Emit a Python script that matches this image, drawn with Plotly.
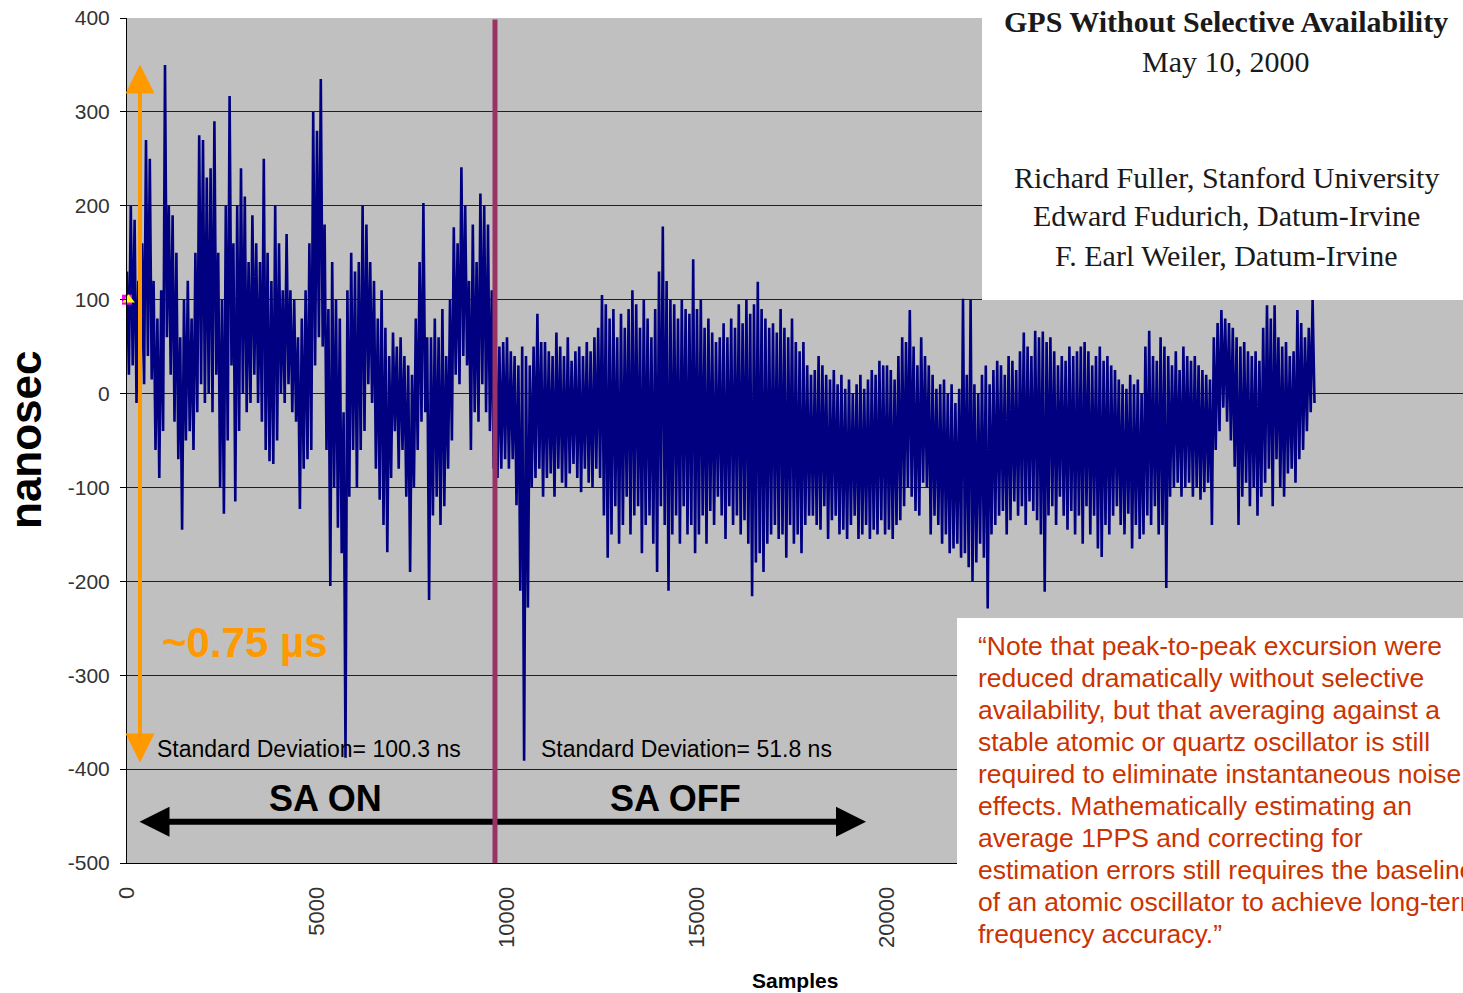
import plotly.graph_objects as go

# ---------------- data ----------------
# sample index of each pair; HI is the upper excursion, LO the lower one within each 100-sample window
SAMPLES = list(range(0, 31300, 100))

HI = [
    130, 200, 185, 120, 160, 270, 250, 120, 80, 110,
    350, 200, 190, 150, 60, 100, 120, 80, 150, 275,
    270, 230, 240, 290, 150, 100, 200, 317, 160, 200,
    240, 210, 140, 190, 160, 140, 250, 150, 120, 200,
    160, 110, 170, 110, 100, 60, 80, 110, 160, 300,
    280, 335, 180, 90, 140, 100, 80, -20, 110, 150,
    130, 140, 200, 180, 140, 120, 80, 110, 70, 40,
    65, 50, 60, 40, 30, 20, 80, 140, 203, 60,
    60, 80, 60, 90, 40, 100, 177, 160, 241, 200,
    120, 180, 140, 213, 200, 180, 110, 60, 50, 55,
    60, 45, 40, 30, 50, 40, 30, 50, 85, 55,
    55, 45, 40, 65, 50, 40, 60, 35, 45, 50,
    40, 55, 45, 60, 70, 105, 95, 80, 90, 60,
    85, 70, 90, 110, 95, 70, 100, 80, 60, 90,
    130, 178, 120, 100, 95, 80, 100, 90, 85, 143,
    90, 100, 70, 80, 65, 55, 60, 75, 60, 80,
    70, 95, 75, 100, 85, 95, 119, 90, 80, 70,
    75, 65, 90, 70, 60, 80, 55, 45, 55, 30,
    20, 25, 40, 30, 20, 15, 25, 10, 20, 5,
    15, 0, 10, 20, 5, 15, 25, 20, 35, 30,
    30, 25, 15, 40, 60, 55, 89, 50, 30, 60,
    40, 30, 20, 5, 10, 15, 0, 10, -10, 5,
    101, 20, 100, 10, 0, 20, 30, 10, 25, 35,
    30, 20, 40, 35, 25, 45, 65, 50, 40, 67,
    60, 66, 55, 60, 45, 30, 40, 35, 50, 40,
    45, 50, 55, 45, 30, 40, 50, 35, 40, 30,
    25, 15, 10, 5, 20, 10, 15, 0, 50, 67,
    40, 35, 60, 50, 40, 30, 45, 25, 50, 40,
    35, 40, 30, 25, 20, 15, 60, 75, 89, 80,
    75, 70, 60, 50, 55, 45, 40, 45, 35, 70,
    94, 80, 94, 60, 50, 55, 40, 45, 89, 75,
    60, 70, 100,
]

LO = [
    20, 30, -10, -15, 10, 40, 15, -60, -90, -40,
    60, 20, -30, -70, -145, -50, -40, -60, -20, 10,
    -10, 0, -20, 20, -100, -128, -50, 30, -115, -40,
    0, -20, -10, 20, -10, -30, -60, -72, -75, -50,
    0, -10, 10, -20, -30, -123, -80, -70, -60, 30,
    60, 50, -60, -205, -100, -143, -170, -388, -110, -60,
    -100, -60, -40, 10, -10, -80, -113, -140, -169, -90,
    -40, -80, -60, -110, -190, -100, -60, -30, -20, -220,
    -130, -110, -140, -120, -80, -50, 20, 10, 40, 30,
    -60, -20, -30, 10, -20, -40, -80, -90, -80, -70,
    -80, -70, -119, -210, -391, -228, -100, -90, -80, -110,
    -90, -85, -110, -80, -95, -100, -85, -75, -90, -105,
    -80, -95, -100, -80, -90, -130, -175, -150, -120, -160,
    -140, -110, -150, -130, -120, -170, -140, -130, -160, -190,
    -120, -140, -210, -150, -130, -160, -120, -150, -140, -170,
    -150, -130, -160, -125, -140, -110, -130, -155, -120, -140,
    -130, -150, -135, -160, -216, -180, -170, -190, -160, -150,
    -140, -155, -150, -175, -140, -160, -150, -170, -140, -130,
    -130, -140, -145, -120, -155, -135, -130, -150, -145, -155,
    -140, -130, -155, -150, -140, -155, -145, -150, -135, -150,
    -145, -155, -140, -135, -120, -100, -110, -125, -130, -95,
    -100, -150, -130, -140, -160, -150, -170, -165, -160, -175,
    -170, -185, -200, -180, -160, -175, -229, -150, -140, -130,
    -125, -150, -135, -115, -130, -120, -140, -115, -125, -135,
    -150, -211, -130, -120, -140, -110, -130, -145, -125, -150,
    -130, -160, -120, -150, -130, -165, -174, -140, -150, -130,
    -120, -140, -150, -128, -165, -140, -155, -150, -130, -140,
    -120, -150, -140, -207, -110, -100, -95, -110, -100, -95,
    -110, -100, -113, -105, -95, -140, -60, -40, -15, -30,
    -50, -78, -140, -110, -95, -120, -100, -130, -110, -95,
    -80, -120, -70, -100, -110, -85, -80, -95, -70, -60,
    -40, -20, -10,
]

SA_SWITCH_SAMPLE = 9684
Y_TICKS = [400, 300, 200, 100, 0, -100, -200, -300, -400, -500]
X_TICKS = [0, 5000, 10000, 15000, 20000]
START_MARK = (0, 100)
PEAK_TOP, PEAK_BOTTOM = 352, -393

QUOTE_LINES = [
    "\u201cNote that peak-to-peak excursion were",
    "reduced dramatically without selective",
    "availability, but that averaging against a",
    "stable atomic or quartz oscillator is still",
    "required to eliminate instantaneous noise",
    "effects. Mathematically estimating an",
    "average 1PPS and correcting for",
    "estimation errors still requires the baseline",
    "of an atomic oscillator to achieve long-term",
    "frequency accuracy.\u201d",
]
TITLE_LINES = [
    ("<b>GPS Without Selective Availability</b>", 22),
    ("May 10, 2000", 62),
    ("Richard Fuller, Stanford University", 178),
    ("Edward Fudurich, Datum-Irvine", 216),
    ("F. Earl Weiler, Datum-Irvine", 256),
]

# ---------------- layout geometry ----------------
W, H = 1463, 993
ML, MT, MB = 127, 18, 130
PW, PH = W - ML, H - MT - MB


def px(xp):
    return (xp - ML) / PW


def py(yp):
    return (H - MB - yp) / PH


xs, ys = [], []
for s, h, l in zip(SAMPLES, HI, LO):
    xs += [s, s + 50]
    ys += [h, l]

SANS = "Liberation Sans, Arial, sans-serif"
SERIF = "Liberation Serif, Times New Roman, serif"

fig = go.Figure()
fig.add_trace(go.Scatter(x=xs, y=ys, mode="lines",
                         line=dict(color="#000080", width=2.6, simplify=False),
                         hoverinfo="skip", showlegend=False))
fig.add_trace(go.Scatter(x=[START_MARK[0]], y=[START_MARK[1]], mode="markers",
                         marker=dict(symbol="square", color="#FF00FF", size=10, line=dict(width=0)),
                         cliponaxis=False, showlegend=False))
fig.add_trace(go.Scatter(x=[START_MARK[0] + 40], y=[START_MARK[1]], mode="markers",
                         marker=dict(symbol="triangle-up", color="#FFFF00", size=11, line=dict(width=0)),
                         cliponaxis=False, showlegend=False))

shapes = [
    dict(type="rect", xref="paper", yref="paper", x0=px(982), x1=px(W + 5), y0=py(300), y1=py(-5),
         fillcolor="white", line=dict(width=0), layer="above"),
    dict(type="rect", xref="paper", yref="paper", x0=px(957), x1=px(W + 5), y0=py(H + 5), y1=py(618),
         fillcolor="white", line=dict(width=0), layer="above"),
]

ann = []
# orange double arrow
ann.append(dict(x=342, y=PEAK_BOTTOM, ax=342, ay=PEAK_TOP, xref="x", yref="y", axref="x", ayref="y",
                text="", showarrow=True, arrowhead=2, startarrowhead=2, arrowside="end+start",
                arrowsize=1.45, startarrowsize=1.45, arrowwidth=4, arrowcolor="#FF9900"))
# black double arrow
ann.append(dict(x=19447, y=-456, ax=289, ay=-456, xref="x", yref="y", axref="x", ayref="y",
                text="", showarrow=True, arrowhead=2, startarrowhead=2, arrowside="end+start",
                arrowsize=1.0, startarrowsize=1.0, arrowwidth=6, arrowcolor="black"))
# SA switch marker line (drawn over the arrow as in the original)
ann.append(dict(x=SA_SWITCH_SAMPLE, y=-500, ax=SA_SWITCH_SAMPLE, ay=400, xref="x", yref="y",
                axref="x", ayref="y", text="", showarrow=True, arrowhead=0, arrowwidth=5,
                arrowcolor="#993366", standoff=0, startstandoff=0))
ann.append(dict(x=868, y=-265, xref="x", yref="y", xanchor="left", yanchor="middle", showarrow=False,
                text="<b>~0.75 \u00b5s</b>", font=dict(family=SANS, size=42, color="#FF9900")))
ann.append(dict(x=737, y=-379, xref="x", yref="y", xanchor="left", yanchor="middle", showarrow=False,
                text="Standard Deviation= 100.3 ns", font=dict(family=SANS, size=23, color="black")))
ann.append(dict(x=10842, y=-379, xref="x", yref="y", xanchor="left", yanchor="middle", showarrow=False,
                text="Standard Deviation= 51.8 ns", font=dict(family=SANS, size=23, color="black")))
ann.append(dict(x=5211, y=-431, xref="x", yref="y", xanchor="center", yanchor="middle", showarrow=False,
                text="<b>SA ON</b>", font=dict(family=SANS, size=36, color="black")))
ann.append(dict(x=14447, y=-431, xref="x", yref="y", xanchor="center", yanchor="middle", showarrow=False,
                text="<b>SA OFF</b>", font=dict(family=SANS, size=36, color="black")))
# axis titles
ann.append(dict(x=px(25), y=py(440), xref="paper", yref="paper", xanchor="center", yanchor="middle",
                showarrow=False, textangle=-90, text="<b>nanosec</b>",
                font=dict(family=SANS, size=44, color="black")))
ann.append(dict(x=px(795), y=py(980), xref="paper", yref="paper", xanchor="center", yanchor="middle",
                showarrow=False, text="<b>Samples</b>", font=dict(family=SANS, size=21, color="black")))
# title block
for txt, yy in TITLE_LINES:
    ann.append(dict(x=px(1226), y=py(yy), xref="paper", yref="paper", xanchor="center", yanchor="middle",
                    showarrow=False, text=txt, font=dict(family=SERIF, size=30, color="#1a1a1a")))
# quote (the last characters run past the page edge, as in the original slide)
for i, line in enumerate(QUOTE_LINES):
    ann.append(dict(x=px(976), y=py(646 + 32 * i), xref="paper", yref="paper", xanchor="left",
                    yanchor="middle", showarrow=False, text=line,
                    font=dict(family=SANS, size=26.5, color="#CC3300")))

fig.update_layout(
    width=W, height=H,
    margin=dict(l=ML, r=0, t=MT, b=MB, pad=0),
    paper_bgcolor="white", plot_bgcolor="#C0C0C0",
    showlegend=False,
    shapes=shapes, annotations=ann,
    xaxis=dict(range=[0, PW / 0.038], tickvals=X_TICKS, ticktext=[str(v) for v in X_TICKS],
               tickangle=-90, showgrid=False, zeroline=False, showline=True, linecolor="black",
               linewidth=1, ticks="", ticklabelstandoff=14,
               tickfont=dict(family=SANS, size=22, color="#333333")),
    yaxis=dict(range=[-500, 400], tickvals=Y_TICKS, ticktext=[str(v) for v in Y_TICKS],
               showgrid=True, gridcolor="#1f1f1f", gridwidth=1, zeroline=False,
               showline=True, linecolor="black", linewidth=1, ticks="outside", ticklen=6,
               tickcolor="black", ticklabelstandoff=6,
               tickfont=dict(family=SANS, size=21, color="#333333")),
)

fig.write_html("out.html")
